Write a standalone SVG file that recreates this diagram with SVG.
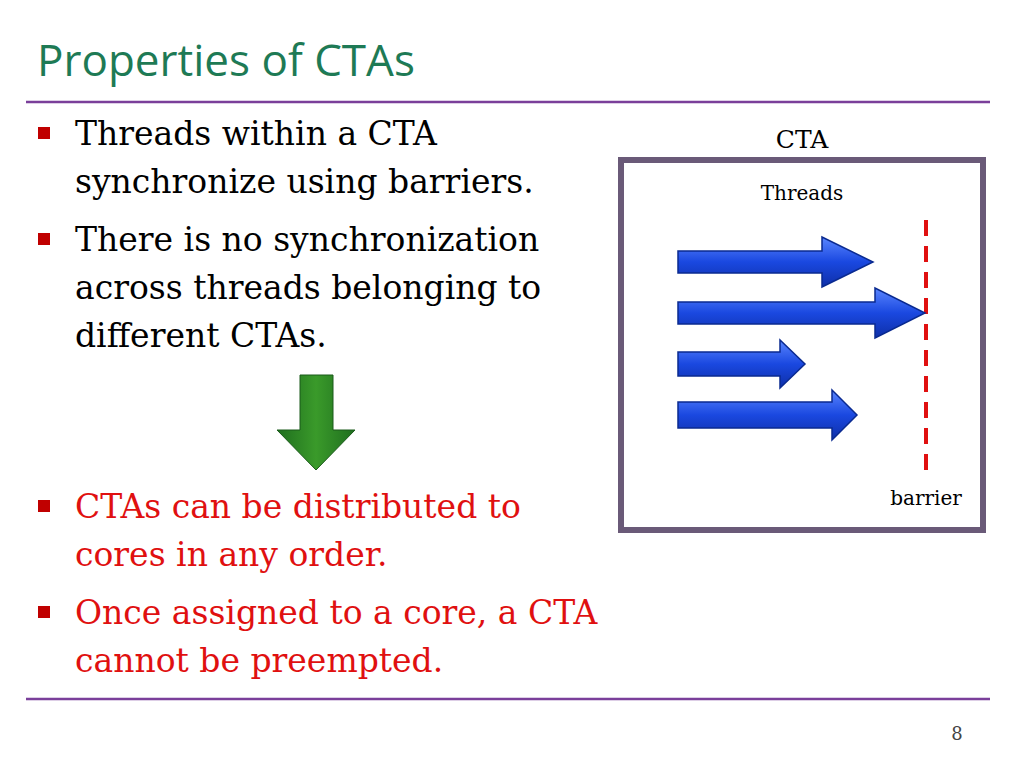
<svg xmlns="http://www.w3.org/2000/svg" width="1024" height="768" viewBox="0 0 1024 768">
<defs>
<linearGradient id="bl" x1="0" y1="0" x2="0" y2="1"><stop offset="0" stop-color="#5a86ff"/><stop offset="0.5" stop-color="#1a48e0"/><stop offset="1" stop-color="#0e2fa8"/></linearGradient>
<linearGradient id="gr" x1="0" y1="0" x2="1" y2="0"><stop offset="0" stop-color="#1f6e1f"/><stop offset="0.5" stop-color="#3a9a2a"/><stop offset="1" stop-color="#1f6e1f"/></linearGradient>
<style>
.b{font-family:"DejaVu Serif","Liberation Serif",serif;font-size:33px;fill:#000}
.r{fill:#e01010}
.sq{fill:#c00000}
.ar{fill:url(#bl);stroke:#0a2a90;stroke-width:1.5}
</style>
</defs>
<text x="37" y="76" font-family="Open Sans,Liberation Sans,sans-serif" font-size="44" fill="#1e7a55">Properties of CTAs</text>
<line x1="26" y1="102" x2="990" y2="102" stroke="#7a3f9a" stroke-width="2.5"/>
<line x1="26" y1="699" x2="990" y2="699" stroke="#7a3f9a" stroke-width="2.5"/>
<g id="bullets">
<rect class="sq" x="38" y="127" width="12" height="12"/>
<rect class="sq" x="38" y="233" width="12" height="12"/>
<rect class="sq" x="38" y="500" width="12" height="12"/>
<rect class="sq" x="38" y="606" width="12" height="12"/>
<text class="b" x="75" y="145">Threads within a CTA</text>
<text class="b" x="75" y="193">synchronize using barriers.</text>
<text class="b" x="75" y="251">There is no synchronization</text>
<text class="b" x="75" y="299">across threads belonging to</text>
<text class="b" x="75" y="347">different CTAs.</text>
<text class="b r" x="75" y="518">CTAs can be distributed to</text>
<text class="b r" x="75" y="566">cores in any order.</text>
<text class="b r" x="75" y="624">Once assigned to a core, a CTA</text>
<text class="b r" x="75" y="672">cannot be preempted.</text>
</g>
<g id="downarrow"><polygon points="300,375 333,375 333,430 355,430 316,470 277,430 300,430" fill="url(#gr)" stroke="#1a5a1a" stroke-width="1"/></g>
<text x="802" y="148" text-anchor="middle" font-family="DejaVu Serif,Liberation Serif,serif" font-size="25">CTA</text>
<g id="cta">
<rect x="621" y="160" width="362" height="370" fill="#fff" stroke="#6a5a78" stroke-width="6"/>
<text x="802" y="200" text-anchor="middle" font-family="DejaVu Serif,Liberation Serif,serif" font-size="20">Threads</text>
<text x="926" y="505" text-anchor="middle" font-family="DejaVu Serif,Liberation Serif,serif" font-size="20">barrier</text>
<line x1="926" y1="220" x2="926" y2="480" stroke="#e01010" stroke-width="4" stroke-dasharray="16,10"/>
</g>
<g id="threads">
<polygon class="ar" points="678,251 822,251 822,237 873,262 822,287 822,273 678,273"/>
<polygon class="ar" points="678,302 875,302 875,288 925,313 875,338 875,324 678,324"/>
<polygon class="ar" points="678,352 780,352 780,340 805,364 780,388 780,376 678,376"/>
<polygon class="ar" points="678,402 832,402 832,390 857,415 832,440 832,428 678,428"/>
</g>
<text x="957" y="740" text-anchor="middle" font-family="DejaVu Serif,Liberation Serif,serif" font-size="18" fill="#444">8</text>
</svg>
